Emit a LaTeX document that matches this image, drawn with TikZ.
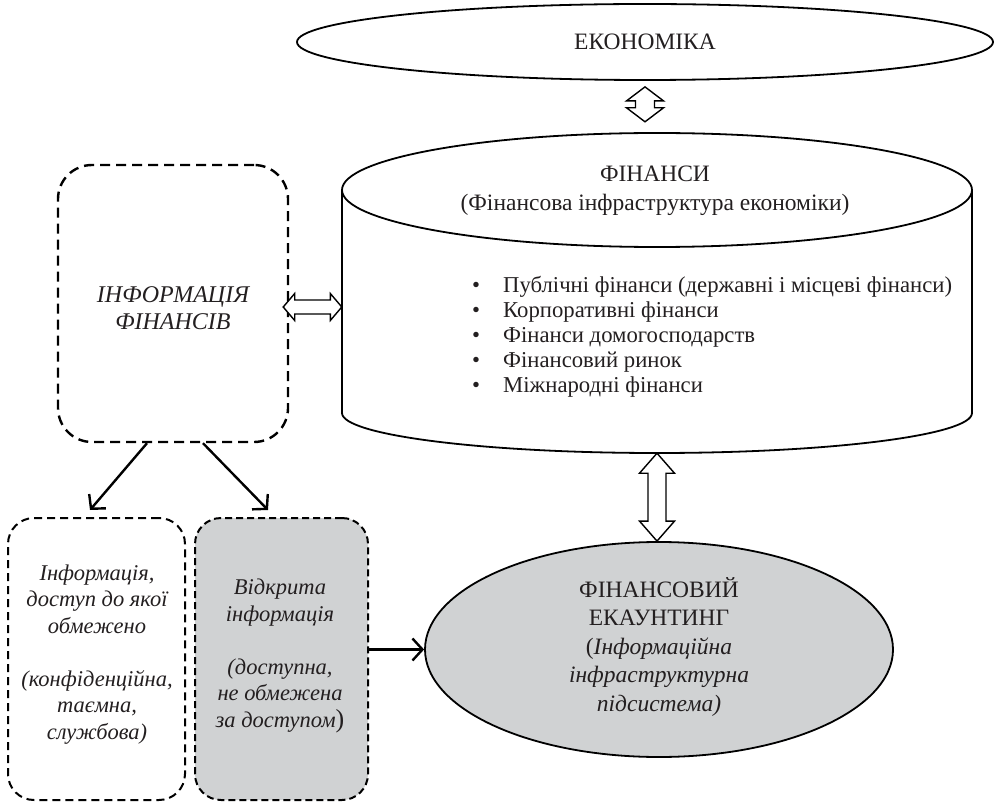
\documentclass[tikz,border=0pt]{standalone}
\usepackage{fontspec}
\setmainfont{Liberation Serif}
\usetikzlibrary{shapes.geometric,arrows.meta,calc}
\definecolor{ink}{HTML}{231F20}
\definecolor{panel}{HTML}{D0D2D3}

% hollow double-headed block arrows: #1, #2 tips, #3 head length,
% #4 half head width, #5 half shaft width
\newcommand\vblockarrow[5]{%
  \draw[blockarrow] (#1) -- ++(#4,#3) -- ++({#5-#4},0) -- ($(#2)+(#5,-#3)$)
    -- ++({#4-#5},0) -- (#2) -- ++(-#4,-#3) -- ++({#4-#5},0)
    -- ($(#1)+(-#5,#3)$) -- ++({#5-#4},0) -- cycle;}
\newcommand\hblockarrow[5]{%
  \draw[blockarrow] (#1) -- ++(#3,-#4) -- ++(0,{#4-#5}) -- ($(#2)+(-#3,-#5)$)
    -- ++(0,{#5-#4}) -- (#2) -- ++(-#3,#4) -- ++(0,{#5-#4})
    -- ($(#1)+(#3,#5)$) -- ++(0,{#4-#5}) -- cycle;}

\begin{document}
\begin{tikzpicture}[x=1pt,y=-1pt,
  every node/.style={text=ink},
  bigfont/.style={font=\fontsize{23.5}{29}\selectfont},
  listfont/.style={font=\fontsize{22.7}{25}\selectfont},
  boxfont/.style={font=\fontsize{22.5}{26.5}\selectfont\itshape},
  outline/.style={draw=black, line width=1.8pt},
  blockarrow/.style={draw=black, line width=1.4pt, fill=white, line join=miter},
  flow/.style={draw=black, line width=2.4pt, -{Straight Barb[length=10pt,width=22pt,line width=2.4pt]}},
  infobox/.style={draw=black, line width=2.4pt, rounded corners=34pt,
    dash pattern=on 10pt off 6pt, inner sep=0pt},
  subbox/.style={draw=black, line width=2pt, rounded corners=26pt, inner sep=0pt,
    minimum height=282, dash pattern=on 8pt off 5pt},
]
\useasboundingbox (0,0) rectangle (995,802);

% economy
\node[ellipse, outline, bigfont, inner sep=0pt, minimum width=696, minimum height=76]
  (eco) at (645,42) {ЕКОНОМІКА};

% finance cylinder (outline drawn by hand, invisible node for anchors)
\node[inner sep=0pt, minimum width=630, minimum height=320] (cyl) at (657,293) {};
\draw[outline] (657,190) ellipse [x radius=315pt, y radius=57pt];
\draw[outline] (342,190) -- (342,413)
  arc[start angle=180, end angle=360, x radius=315pt, y radius=40pt] -- (972,190);
\node[bigfont, align=center] (fintitle) at (655,191)
  {ФІНАНСИ\\(Фінансова інфраструктура економіки)};
\node[listfont, align=left, anchor=north west, inner sep=0pt] (finlist) at (472,276)
  {\makebox[31pt][l]{•}Публічні фінанси (державні і місцеві фінанси)\\
   \makebox[31pt][l]{•}Корпоративні фінанси\\
   \makebox[31pt][l]{•}Фінанси домогосподарств\\
   \makebox[31pt][l]{•}Фінансовий ринок\\
   \makebox[31pt][l]{•}Міжнародні фінанси};

% information of finance
\node[infobox, minimum width=230, minimum height=277] (info) at (173,303.5) {};
\node[font=\fontsize{24}{27}\selectfont\itshape, align=center] (infotext)
  at (173,308) {ІНФОРМАЦІЯ\\ФІНАНСІВ};

% restricted / open information
\node[subbox, minimum width=177] (restr) at (96.5,659) {};
\node[boxfont, align=center] (restrtext) at (97,654.5)
  {Інформація,\\доступ до якої\\обмежено\\[26.5pt](конфіденційна,\\таємна,\\службова)};
\node[subbox, fill=panel, minimum width=173, dash pattern=on 7pt off 4pt] (open) at (281.5,659) {};
\node[boxfont, align=center] (opentext) at (280,656)
  {Відкрита\\інформація\\[26.5pt](доступна,\\не обмежена\\за доступом{\upshape\fontsize{26}{26.5}\selectfont)}};

% financial accounting
\node[ellipse, outline, fill=panel, inner sep=0pt, minimum width=468, minimum height=215]
  (acc) at (659,649.5) {};
\node[align=center, font=\fontsize{23.5}{28.5}\selectfont] (acctext) at (659,647)
  {ФІНАНСОВИЙ\\ЕКАУНТИНГ\\(\textit{Інформаційна}\\\textit{інфраструктурна}\\\textit{підсистема)}};

% connectors
\coordinate (ecoTip) at ($(eco.south)+(0,6)$);
\coordinate (cylTip) at ($(eco.south |- cyl.north)+(0,-11)$);
\vblockarrow{ecoTip}{cylTip}{14}{18.5}{9.5}

\coordinate (cylBot) at (cyl.south);
\coordinate (accTop) at (cyl.south |- acc.north);
\vblockarrow{cylBot}{accTop}{20}{17.5}{9}

\coordinate (infoTip) at ($(info.east)+(-6,3.5)$);
\coordinate (cylSide) at (cyl.west |- infoTip);
\hblockarrow{infoTip}{cylSide}{11.5}{13.5}{7}

\draw[flow] ($(info.south)+(-26,0)$) -- ($(restr.north)+(-6.5,-7)$);
\draw[flow] ($(info.south)+(30,0)$) -- ($(open.north)+(-13.5,-7)$);
\draw[flow] (open.east |- acc.west) -- (acc.west);
\end{tikzpicture}
\end{document}
